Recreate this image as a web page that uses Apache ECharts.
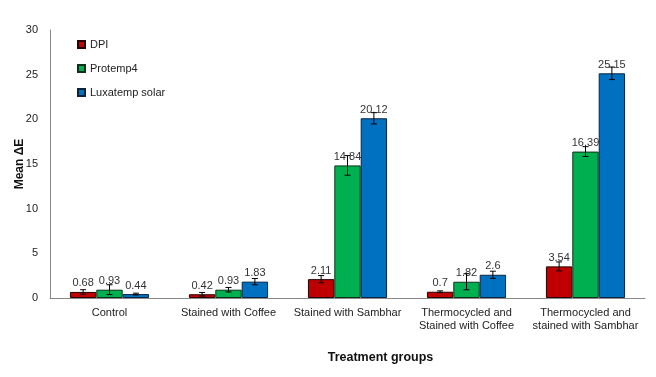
<!DOCTYPE html>
<html>
<head>
<meta charset="utf-8">
<script src="https://cdn.jsdelivr.net/npm/echarts@6/dist/echarts.min.js"></script>
<style>
  html,body{margin:0;padding:0;background:#fff;}
  #chart{width:656px;height:377px;}
</style>
</head>
<body>
<div id="chart"></div>
<script>
  // 数据
  var categories = ['Control', 'Stained with Coffee', 'Stained with Sambhar',
    'Thermocycled and\nStained with Coffee', 'Thermocycled and\nstained with Sambhar'];
  var seriesNames = ['DPI', 'Protemp4', 'Luxatemp solar'];
  var dpiValues = [0.68, 0.42, 2.11, 0.7, 3.54];
  var protempValues = [0.93, 0.93, 14.84, 1.82, 16.39];
  var luxaValues = [0.44, 1.83, 20.12, 2.6, 25.15];
  // 误差（估计值）
  var dpiErr = [0.25, 0.2, 0.4, 0.1, 0.5];
  var protempErr = [0.55, 0.25, 1.1, 0.9, 0.55];
  var luxaErr = [0.1, 0.35, 0.63, 0.4, 0.7];

  var colors = ['#c00000', '#00b050', '#0070c0'];
  var borders = ['#2a0000', '#0b3318', '#0b2440'];
  var allValues = [dpiValues, protempValues, luxaValues];
  var allErr = [dpiErr, protempErr, luxaErr];
  var catGap = 0.335;

  var chart = echarts.init(document.getElementById('chart'));

  var series = [];
  for (var s = 0; s < 3; s++) {
    series.push({
      name: seriesNames[s],
      type: 'bar',
      barGap: 0,
      barCategoryGap: (catGap * 100) + '%',
      data: allValues[s],
      itemStyle: {color: colors[s], borderColor: borders[s], borderWidth: 1},
      label: {
        show: true, position: 'top', distance: 3,
        fontFamily: 'Liberation Sans', fontSize: 11, color: '#333'
      },
      z: 2
    });
  }
  // 误差线
  for (var k = 0; k < 3; k++) {
    (function (idx) {
      var errData = allValues[idx].map(function (v, i) {
        return [i, v - allErr[idx][i], v + allErr[idx][i]];
      });
      series.push({
        type: 'custom',
        name: 'err' + idx,
        data: errData,
        z: 5,
        silent: true,
        renderItem: function (params, api) {
          var band = api.size([1, 0])[0];
          var bw = band * (1 - catGap) / 3;
          var lo = api.coord([api.value(0), api.value(1)]);
          var hi = api.coord([api.value(0), api.value(2)]);
          var x = lo[0] + (idx - 1) * bw;
          var half = 3;
          var st = {stroke: '#000', lineWidth: 1};
          return {
            type: 'group',
            children: [
              {type: 'line', shape: {x1: x, y1: lo[1], x2: x, y2: hi[1]}, style: st},
              {type: 'line', shape: {x1: x - half, y1: lo[1], x2: x + half, y2: lo[1]}, style: st},
              {type: 'line', shape: {x1: x - half, y1: hi[1], x2: x + half, y2: hi[1]}, style: st}
            ]
          };
        }
      });
    })(k);
  }

  var option = {
    animation: false,
    textStyle: {fontFamily: 'Liberation Sans'},
    legend: {
      data: seriesNames,
      orient: 'vertical',
      left: 72,
      top: 34,
      itemWidth: 7,
      itemHeight: 7,
      itemGap: 13,
      icon: 'rect',
      textStyle: {fontFamily: 'Liberation Sans', fontSize: 11, color: '#222'}
    },
    grid: {left: 50, right: 11, top: 30, bottom: 79, outerBoundsMode: 'none'},
    xAxis: {
      type: 'category',
      data: categories,
      name: 'Treatment groups',
      nameLocation: 'middle',
      nameGap: 53,
      nameMoveOverlap: false,
      nameTextStyle: {fontFamily: 'Liberation Sans', fontWeight: 'bold', fontSize: 12.5, color: '#111', padding: [0, 0, 0, 66]},
      axisLine: {lineStyle: {color: '#888'}},
      axisTick: {show: false},
      axisLabel: {interval: 0, fontSize: 11, color: '#222', margin: 8, lineHeight: 13}
    },
    yAxis: {
      type: 'value',
      min: 0, max: 30, interval: 5,
      name: 'Mean ΔE',
      nameLocation: 'middle',
      nameGap: 24,
      nameMoveOverlap: false,
      nameTextStyle: {fontFamily: 'Liberation Sans', fontWeight: 'bold', fontSize: 12, color: '#111'},
      axisLine: {show: true, lineStyle: {color: '#888'}},
      axisTick: {show: false},
      splitLine: {show: false},
      axisLabel: {fontSize: 11, color: '#222', margin: 12}
    },
    series: series
  };
  chart.setOption(option);
</script>
</body>
</html>
